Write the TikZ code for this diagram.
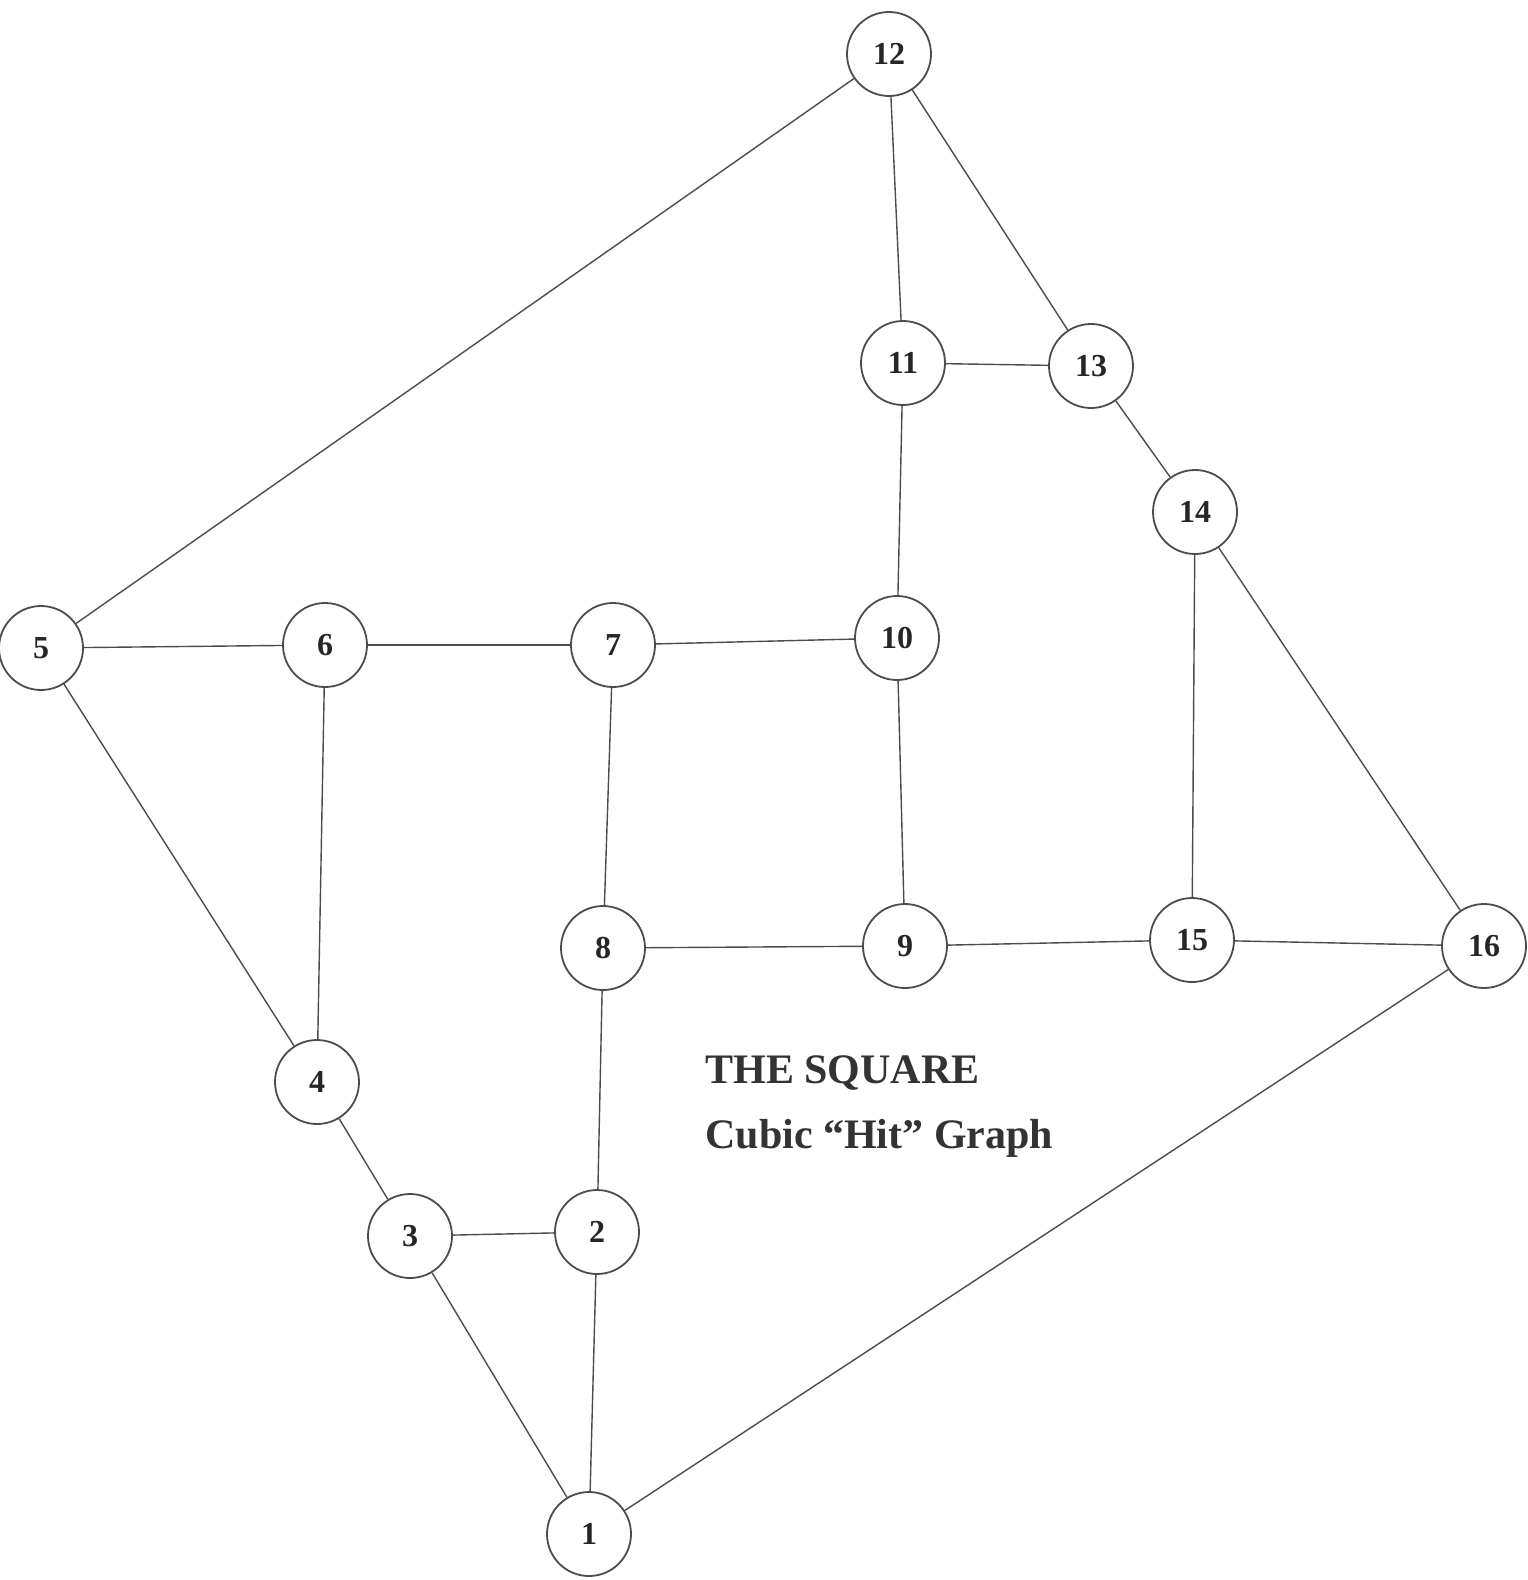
\documentclass[tikz,border=0pt]{standalone}
\usepackage{fontspec}
\setmainfont{Liberation Serif}
\begin{document}
\begin{tikzpicture}[x=0.5pt,y=-0.5pt,
  vertex/.style={circle,draw=black!70,line width=0.9pt,minimum size=42pt,inner sep=0pt,font=\bfseries\fontsize{16}{16}\selectfont,text=black!85},
  edge/.style={draw=black!70,line width=0.7pt},
  title/.style={anchor=base west,inner sep=0pt,font=\bfseries\fontsize{21}{21}\selectfont,text=black!80}]
\useasboundingbox (0,0) rectangle (1527,1580);
\node[vertex] (n1) at (589,1534) {1};
\node[vertex] (n2) at (597,1232) {2};
\node[vertex] (n3) at (410,1236) {3};
\node[vertex] (n4) at (317,1082) {4};
\node[vertex] (n5) at (41,648) {5};
\node[vertex] (n6) at (325,645) {6};
\node[vertex] (n7) at (613,645) {7};
\node[vertex] (n8) at (603,948) {8};
\node[vertex] (n9) at (905,946) {9};
\node[vertex] (n10) at (897,638) {10};
\node[vertex] (n11) at (903,363) {11};
\node[vertex] (n12) at (889,54) {12};
\node[vertex] (n13) at (1091,366) {13};
\node[vertex] (n14) at (1195,512) {14};
\node[vertex] (n15) at (1192,940) {15};
\node[vertex] (n16) at (1484,946) {16};
\foreach \a/\b in {12/5,12/11,12/13,11/13,11/10,13/14,14/15,14/16,5/6,5/4,6/7,6/4,7/10,7/8,10/9,8/9,8/2,9/15,15/16,16/1,4/3,3/2,3/1,2/1}
  \draw[edge] (n\a) -- (n\b);
\node[title] (t1) at (705,1083) {THE SQUARE};
\node[title] (t2) at (705,1148) {Cubic “Hit” Graph};
\end{tikzpicture}
\end{document}
